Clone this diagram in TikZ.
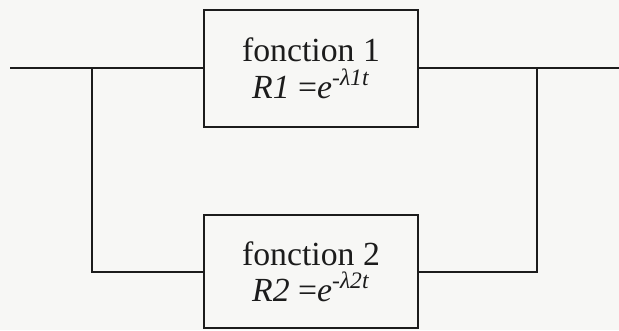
\documentclass[tikz,border=0pt]{standalone}
\usepackage{fontspec}
\setmainfont{Liberation Serif}
\usetikzlibrary{positioning,calc}
\usepackage{xcolor}
\definecolor{scanink}{RGB}{28,28,28}
\definecolor{scanpaper}{RGB}{247,247,245}
\tikzset{
    fbox/.style={
        draw=scanink,line width=1.4pt,minimum width=5.35cm,
        align=center,text=scanink,font=\fontsize{24}{26}\selectfont
    },
    wire/.style={
        draw=scanink,line width=1.4pt
    }
}

\begin{document}
\begin{tikzpicture}

\fill[scanpaper] (0,0) rectangle (15.475,8.25);
\useasboundingbox (0,0) rectangle (15.475,8.25);

\node[fbox,minimum height=2.925cm]
(f1) at (7.775,6.54)
{
fonction 1\\
\textit{R1} =\textit{e}\textsuperscript{-\textit{λ1t}}
};

\node[fbox,minimum height=2.825cm]
(f2) at (7.775,1.46)
{
fonction 2\\
\textit{R2} =\textit{e}\textsuperscript{-\textit{λ2t}}
};

\coordinate (in) at (0.25,6.54);
\coordinate (out) at (15.475,6.54);
\coordinate (jl) at (2.3,6.54);
\coordinate (jr) at (13.425,6.54);

\draw[wire] (in) -- (f1.west);
\draw[wire] (f1.east) -- (out);
\draw[wire] (jl) |- (f2.west);
\draw[wire] (jr) |- (f2.east);

\end{tikzpicture}
\end{document}
